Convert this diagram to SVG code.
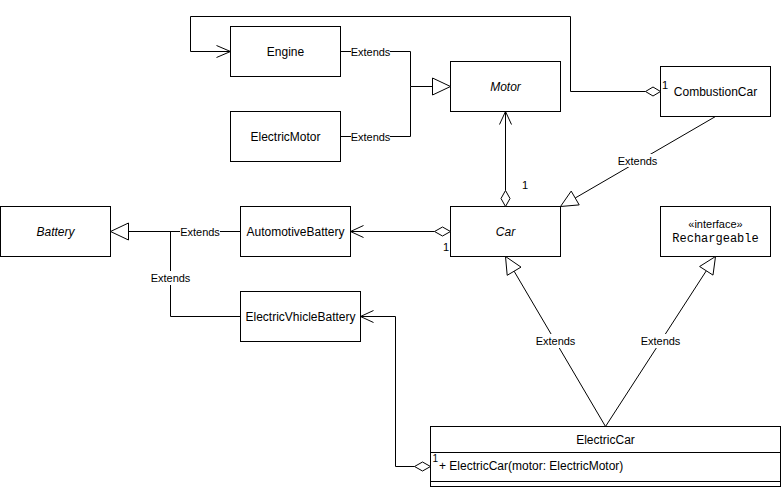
<svg xmlns="http://www.w3.org/2000/svg" width="781" height="487" viewBox="0 0 781 487">
  <defs>
    <style>
      .box { fill: #ffffff; stroke: #000000; stroke-width: 1; }
      .edge { fill: none; stroke: #000000; stroke-width: 1; }
      .head { fill: #ffffff; stroke: #000000; stroke-width: 1; }
      .open { fill: none; stroke: #000000; stroke-width: 1; }
      text { font-family: "Liberation Sans", Arial, sans-serif; fill: #000000; }
      .name { font-size: 12px; text-anchor: middle; dominant-baseline: central; }
      .abstract { font-style: italic; }
      .mono { font-family: "Liberation Mono", "Courier New", monospace; }
      .lbl { font-size: 11px; text-anchor: middle; dominant-baseline: central; }
      .lblbg { fill: #ffffff; stroke: none; }
      .mult { font-size: 11px; }
    </style>
  </defs>

  <!-- classes -->
  <g id="engine">
    <rect class="box" x="230.5" y="26.5" width="110" height="50"/>
    <text class="name" x="285.5" y="51.5">Engine</text>
  </g>
  <g id="electric-motor">
    <rect class="box" x="230.5" y="111.5" width="110" height="50"/>
    <text class="name" x="285.5" y="136.5">ElectricMotor</text>
  </g>
  <g id="motor">
    <rect class="box" x="450.5" y="61.5" width="110" height="50"/>
    <text class="name abstract" x="505.5" y="86.5">Motor</text>
  </g>
  <g id="combustion-car">
    <rect class="box" x="660.5" y="66.5" width="110" height="50"/>
    <text class="name" x="715.5" y="91.5">CombustionCar</text>
  </g>
  <g id="battery">
    <rect class="box" x="0.5" y="206.5" width="110" height="50"/>
    <text class="name abstract" x="55.5" y="231.5">Battery</text>
  </g>
  <g id="automotive-battery">
    <rect class="box" x="240.5" y="206.5" width="110" height="50"/>
    <text class="name" x="295.5" y="231.5">AutomotiveBattery</text>
  </g>
  <g id="car">
    <rect class="box" x="450.5" y="206.5" width="110" height="50"/>
    <text class="name abstract" x="505.5" y="231.5">Car</text>
  </g>
  <g id="rechargeable">
    <rect class="box" x="660.5" y="206.5" width="110" height="50"/>
    <text class="name" x="715.5" y="224" style="font-size:11px">«interface»</text>
    <text class="name mono" x="715.5" y="239">Rechargeable</text>
  </g>
  <g id="electric-vehicle-battery">
    <rect class="box" x="240.5" y="291.5" width="120" height="50"/>
    <text class="name" x="300.5" y="316.5">ElectricVhicleBattery</text>
  </g>
  <g id="electric-car">
    <rect class="box" x="430.5" y="426.5" width="350" height="60"/>
    <line class="edge" x1="430.5" y1="452.5" x2="780.5" y2="452.5"/>
    <line class="edge" x1="430.5" y1="481.5" x2="780.5" y2="481.5"/>
    <text class="name" x="605.5" y="439.5">ElectricCar</text>
    <text x="439" y="470" style="font-size:12px">+ ElectricCar(motor: ElectricMotor)</text>
  </g>

  <!-- connectors -->
  <g id="connectors">
    <!-- Engine / ElectricMotor generalise Motor -->
    <path class="edge" d="M340.5,51.5 H410.5 V86.5 H432.5"/>
    <path class="edge" d="M340.5,136.5 H410.5 V86.5"/>
    <polygon class="head" points="432.5,78 450.5,86.5 432.5,95"/>
    <rect class="lblbg" x="351" y="45" width="39" height="13"/>
    <text class="lbl" x="370.5" y="51.5">Extends</text>
    <rect class="lblbg" x="351" y="130" width="39" height="13"/>
    <text class="lbl" x="370.5" y="136.5">Extends</text>

    <!-- CombustionCar aggregates Engine -->
    <path class="edge" d="M645.5,91.5 H570.5 V16.5 H190.5 V51.5 H230.5"/>
    <polygon class="head" points="660.5,91.5 653,87 645.5,91.5 653,96"/>
    <polyline class="open" points="216.5,45.5 230.5,51.5 216.5,57.5"/>
    <text class="mult" x="662" y="89">1</text>

    <!-- CombustionCar generalises Car -->
    <line class="edge" x1="715.5" y1="116.5" x2="575.2" y2="198"/>
    <polygon class="head" points="560.5,206.5 579.2,204.9 571.2,191.1"/>
    <rect class="lblbg" x="617" y="154" width="40" height="13"/>
    <text class="lbl" x="637.5" y="160.5">Extends</text>

    <!-- Car aggregates Motor -->
    <line class="edge" x1="505.5" y1="190.5" x2="505.5" y2="111.5"/>
    <polygon class="head" points="505.5,206.5 510,198.5 505.5,190.5 501,198.5"/>
    <polyline class="open" points="499.5,124.5 505.5,111.5 511.5,124.5"/>
    <text class="mult" x="522" y="189">1</text>

    <!-- Car aggregates AutomotiveBattery -->
    <line class="edge" x1="434.5" y1="231.5" x2="350.5" y2="231.5"/>
    <polygon class="head" points="450.5,231.5 442.5,227 434.5,231.5 442.5,236"/>
    <polyline class="open" points="363.5,225.5 350.5,231.5 363.5,237.5"/>
    <text class="mult" x="443" y="251">1</text>

    <!-- batteries generalise Battery -->
    <path class="edge" d="M128.5,231.5 H240.5"/>
    <path class="edge" d="M170.5,231.5 V316.5 H240.5"/>
    <polygon class="head" points="128.5,223 110.5,231.5 128.5,240"/>
    <rect class="lblbg" x="180" y="225" width="40" height="13"/>
    <text class="lbl" x="200" y="231.5">Extends</text>
    <rect class="lblbg" x="150" y="271" width="40" height="14"/>
    <text class="lbl" x="170.5" y="278">Extends</text>

    <!-- ElectricCar aggregates ElectricVhicleBattery -->
    <path class="edge" d="M414.5,466.5 H395.5 V316.5 H360.5"/>
    <polygon class="head" points="430.5,466.5 422.5,462 414.5,466.5 422.5,471"/>
    <polyline class="open" points="373.5,310.5 360.5,316.5 373.5,322.5"/>
    <text class="mult" x="432.5" y="462" style="font-size:10px">1</text>

    <!-- ElectricCar generalises Car and Rechargeable -->
    <line class="edge" x1="605.5" y1="426.5" x2="514.1" y2="271.2"/>
    <polygon class="head" points="505.5,256.5 521,267.1 507.2,275.3"/>
    <line class="edge" x1="605.5" y1="426.5" x2="706.3" y2="270.8"/>
    <polygon class="head" points="715.5,256.5 713,275.1 699.6,266.5"/>
    <rect class="lblbg" x="535" y="334" width="40" height="14"/>
    <text class="lbl" x="555.5" y="341">Extends</text>
    <rect class="lblbg" x="640" y="334" width="40" height="14"/>
    <text class="lbl" x="660.5" y="341">Extends</text>
  </g>
</svg>
